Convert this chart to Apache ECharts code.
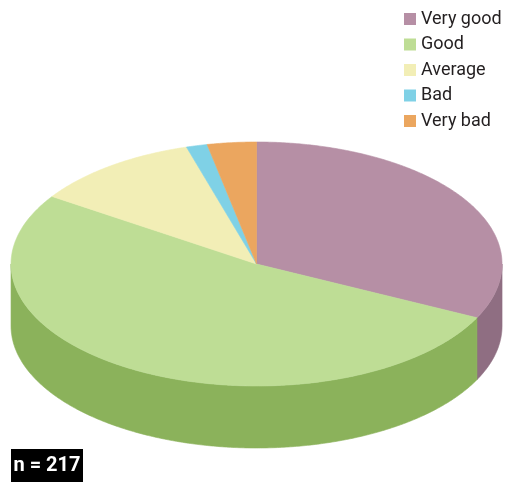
<!DOCTYPE html>
<html><head><meta charset="utf-8">
<script src="https://cdn.jsdelivr.net/npm/echarts@6/dist/echarts.min.js"></script>
<style>html,body{margin:0;padding:0;background:#fff}#c{width:508px;height:483px}</style>
</head><body><div id="c"></div>
<script>
const categories = ['Very good', 'Good', 'Average', 'Bad', 'Very bad'];
const counts = [70, 113, 24, 3, 7];
const topColors = ['#b68fa5', '#bedd95', '#f2eeb6', '#7fd1e6', '#eba65f'];
const sideColors = ['#8f6e82', '#8bb25b', '#c9c48a', '#5fa9be', '#c2843f'];
const sampleLabel = 'n = ';

const total = counts.reduce((a, b) => a + b, 0);
const chart = echarts.init(document.getElementById('c'), null, { renderer: 'canvas' });

function renderSlice(params, api) {
  const i = params.seriesIndex;
  let before = 0;
  for (let k = 0; k < i; k++) before += counts[k];
  const a0 = before / total * 2 * Math.PI;
  const a1 = (before + counts[i]) / total * 2 * Math.PI;
  const W = api.getWidth();
  const cx = W * 0.505, cy = 264, rx = 245.5, ry = 122, depth = 62;
  const pt = t => [cx + rx * Math.sin(t), cy - ry * Math.cos(t)];
  const N = Math.max(2, Math.ceil((a1 - a0) / (Math.PI / 360)));
  const top = [[cx, cy]];
  for (let j = 0; j <= N; j++) top.push(pt(a0 + (a1 - a0) * j / N));
  const children = [];
  const s0 = Math.max(a0, Math.PI / 2), s1 = Math.min(a1, 3 * Math.PI / 2);
  if (s1 > s0) {
    const M = Math.max(2, Math.ceil((s1 - s0) / (Math.PI / 360)));
    const upper = [], lower = [];
    for (let j = 0; j <= M; j++) {
      const p = pt(s0 + (s1 - s0) * j / M);
      upper.push(p);
      lower.push([p[0], p[1] + depth]);
    }
    children.push({ type: 'polygon', shape: { points: upper.concat(lower.reverse()) },
      style: { fill: sideColors[i], stroke: sideColors[i], lineWidth: 0.6 } });
  }
  children.push({ type: 'polygon', shape: { points: top },
    style: { fill: topColors[i], stroke: topColors[i], lineWidth: 0.6, lineJoin: 'round' } });
  return { type: 'group', children };
}

const series = categories.map((name, i) => ({
  type: 'custom',
  name: name,
  coordinateSystem: 'none',
  renderItem: renderSlice,
  itemStyle: { color: topColors[i] },
  data: [counts[i]],
  silent: true
}));

chart.setOption({
  animation: false,
  backgroundColor: '#fff',
  legend: {
    data: categories,
    orient: 'vertical',
    left: 399,
    top: 5,
    icon: 'rect',
    itemWidth: 12,
    itemHeight: 12,
    itemGap: 7.5,
    textStyle: { fontFamily: 'Roboto', fontSize: 18, color: '#231f20', lineHeight: 18 }
  },
  graphic: [{
    type: 'group',
    left: 11,
    top: 449,
    children: [
      { type: 'rect', shape: { x: 0, y: 0, width: 72, height: 33 }, style: { fill: '#000' } },
      { type: 'text', x: 36, y: 17, style: { text: sampleLabel + total, fill: '#fff',
        font: 'bold 20px Roboto', align: 'center', verticalAlign: 'middle' } }
    ]
  }],
  series: series
});
</script>
</body></html>
